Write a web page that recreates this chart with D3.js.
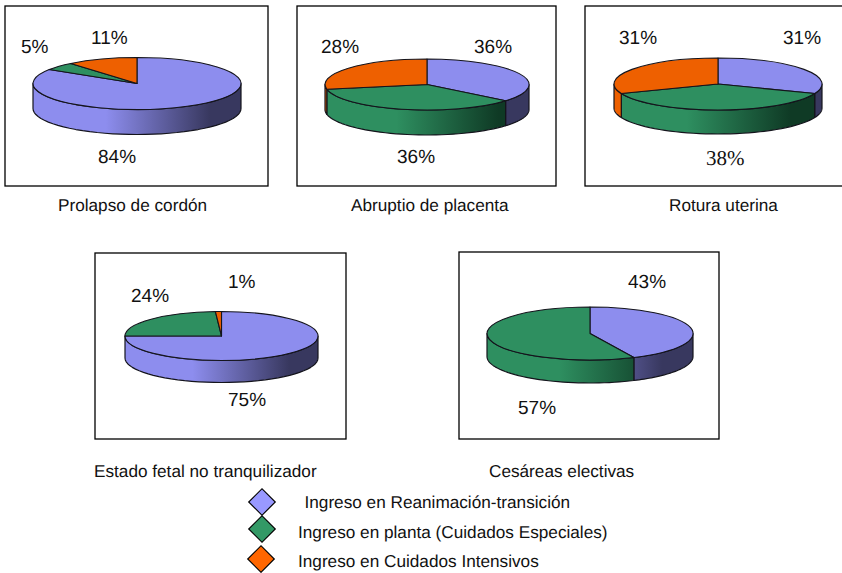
<!DOCTYPE html>
<html>
<head>
<meta charset="utf-8">
<script src="https://cdnjs.cloudflare.com/ajax/libs/d3/7.8.5/d3.min.js"></script>
<style>
html,body{margin:0;padding:0;background:#fff;overflow:hidden}
text{font-family:"Liberation Sans",Arial,sans-serif;fill:#111;text-rendering:geometricPrecision}
</style>
</head>
<body>
<svg id="chart" width="842" height="573"></svg>
<script>
// Series shared by every pie, in clockwise order from twelve o'clock
const categories = ["Ingreso en Reanimación-transición", "Ingreso en planta (Cuidados Especiales)", "Ingreso en Cuidados Intensivos"];
const titles = ["Prolapso de cordón", "Abruptio de placenta", "Rotura uterina", "Estado fetal no tranquilizador", "Cesáreas electivas"];
const prolapso = [84, 5, 11];
const abruptio = [36, 36, 28];
const rotura = [31, 38, 31];
const estadoFetal = [75, 24, 1];
const cesareas = [43, 57, 0];
const seriesValues = [prolapso, abruptio, rotura, estadoFetal, cesareas];

const topColors = ["#8d8dee", "#2e8f60", "#ee6000"];
const darkColors = ["#38385f", "#0f3a25", "#8f3a00"];
const legendColors = ["#9999ff", "#339966", "#ff6600"];

// Panel frames, ellipse geometry and hand-placed percentage labels
const panels = [
  {frame:[5,6,268,186], cx:137, cy:83.5, rx:104, ry:26, depth:25, titleX:58, titleY:211,
   labels:[[98,163],[21,53],[91,44]]},
  {frame:[297,6,556,186], cx:427, cy:84.5, rx:102, ry:25.5, depth:25, titleX:351, titleY:211,
   labels:[[474,53],[397,163],[321,53]]},
  {frame:[585,6,846,186], cx:718, cy:84, rx:104, ry:26, depth:24, titleX:669, titleY:211,
   labels:[[783,44],[706,165,"serif"],[619,44]]},
  {frame:[95,253,346,439], cx:221.5, cy:336, rx:96.5, ry:24.5, depth:22, titleX:94, titleY:477,
   labels:[[228,406],[131,302],[228,288]]},
  {frame:[459,252,719,439], cx:590, cy:333.5, rx:103, ry:26.5, depth:23, titleX:489, titleY:477,
   labels:[[628,288],[518,414],null]}
];

const svg = d3.select("#chart");
const defs = svg.append("defs");
const pieLayout = d3.pie().sort(null).value(d => d);
const unitArc = d3.arc().innerRadius(0).outerRadius(1);
const EDGE = "#14141c";
const HALF = Math.PI / 2;

panels.forEach((p, pi) => {
  const g = svg.append("g");
  const [x0, y0, x1, y1] = p.frame;
  g.append("rect").attr("x", x0).attr("y", y0).attr("width", x1 - x0).attr("height", y1 - y0)
    .attr("fill", "#fff").attr("stroke", "#000").attr("stroke-width", 1.3);

  const sx = d3.scaleLinear().domain([-1, 1]).range([p.cx - p.rx, p.cx + p.rx]);
  const sy = d3.scaleLinear().domain([-1, 1]).range([p.cy - p.ry, p.cy + p.ry]);
  const arcs = pieLayout(seriesValues[pi]);

  // Horizontal shading of the rim: flat on the left, darkening to the right
  categories.forEach((c, ci) => {
    const grad = defs.append("linearGradient").attr("id", `rim-${pi}-${ci}`)
      .attr("gradientUnits", "userSpaceOnUse")
      .attr("x1", sx(-1)).attr("x2", sx(1)).attr("y1", 0).attr("y2", 0);
    [[0, topColors[ci]], [0.35, topColors[ci]], [0.85, darkColors[ci]], [1, darkColors[ci]]]
      .forEach(([o, col]) => grad.append("stop").attr("offset", o).attr("stop-color", col));
  });

  // Visible rim: only the part of each slice on the front half of the ellipse
  const rim = d3.line();
  arcs.forEach(a => {
    const from = Math.max(a.startAngle, HALF), to = Math.min(a.endAngle, 3 * HALF);
    if (to <= from) return;
    const steps = d3.range(0, 41).map(i => from + (to - from) * i / 40);
    const lower = steps.map(t => [sx(Math.sin(t)), sy(-Math.cos(t))]);
    const upper = lower.map(([x, y]) => [x, y + p.depth]).reverse();
    g.append("path").attr("d", rim(lower.concat(upper)) + "Z")
      .attr("fill", `url(#rim-${pi}-${a.index})`)
      .attr("stroke", EDGE).attr("stroke-width", 1.2).attr("stroke-linejoin", "round");
  });

  // Flat top face, a circular d3.arc squashed into the ellipse
  const top = g.append("g")
    .attr("transform", `translate(${p.cx},${p.cy}) scale(${p.rx},${p.ry})`);
  top.selectAll("path").data(arcs.filter(a => a.value > 0)).join("path")
    .attr("d", unitArc)
    .attr("fill", d => topColors[d.index])
    .attr("stroke", EDGE).attr("stroke-width", 1.1)
    .attr("vector-effect", "non-scaling-stroke").attr("stroke-linejoin", "round");

  // Percentages
  arcs.forEach((a, i) => {
    const pos = p.labels[i];
    if (!pos) return;
    g.append("text").attr("x", pos[0]).attr("y", pos[1])
      .attr("font-size", pos[2] ? 21 : 19)
      .style("font-family", pos[2] ? '"Liberation Serif",serif' : null)
      .text(a.value + "%");
  });

  g.append("text").attr("x", p.titleX).attr("y", p.titleY).attr("font-size", 17.2).text(titles[pi]);
});

// Legend with diamond swatches
const legendRows = [[262, 502, 304.5, 508], [262, 529, 298, 538], [261, 559, 298, 567]];
const diamond = d3.symbol().type(d3.symbolSquare).size(2 * 13.5 * 13);
const legend = svg.append("g");
categories.forEach((c, i) => {
  const [dx, dy, tx, ty] = legendRows[i];
  legend.append("path").attr("d", diamond())
    .attr("transform", `translate(${dx},${dy}) rotate(45)`)
    .attr("fill", legendColors[i]).attr("stroke", "#000").attr("stroke-width", 1.2);
  legend.append("text").attr("x", tx).attr("y", ty).attr("font-size", 17.2).text(c);
});
</script>
</body>
</html>
